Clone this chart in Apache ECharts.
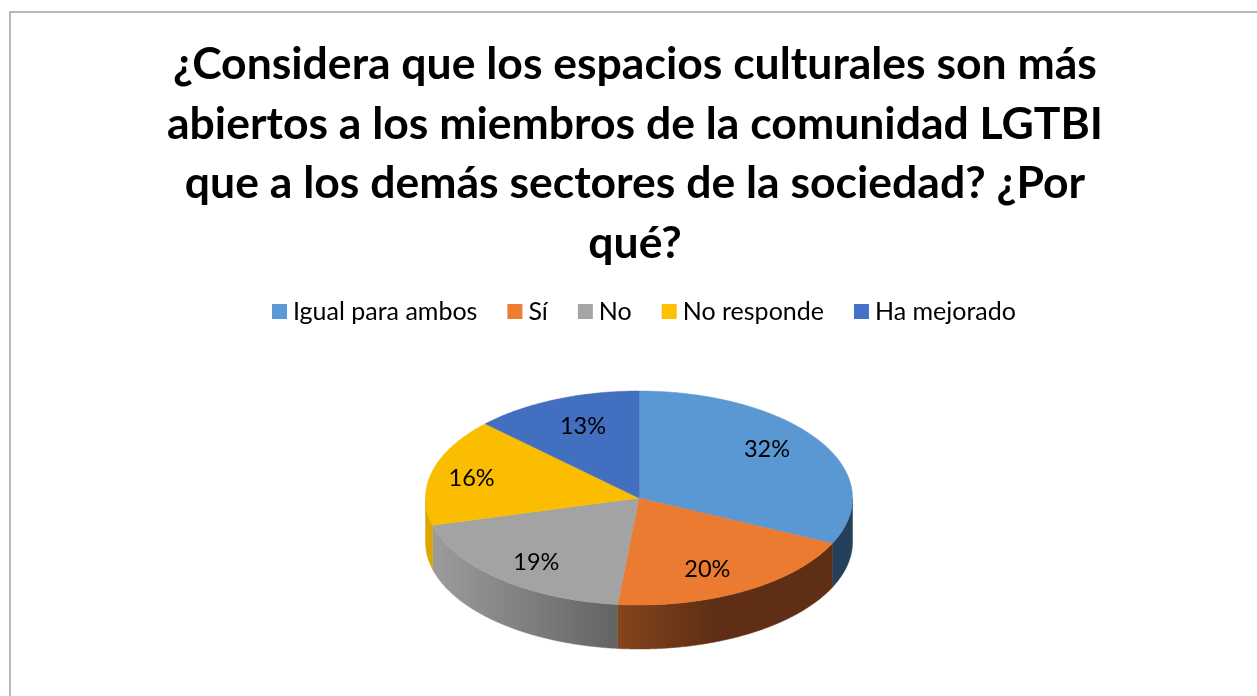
<!DOCTYPE html>
<html>
<head>
<meta charset="utf-8">
<style>html,body{margin:0;padding:0;background:#fff}#chart{width:1257px;height:696px}</style>
<script src="https://cdn.jsdelivr.net/npm/echarts@6/dist/echarts.min.js"></script>
</head>
<body>
<div id="chart"></div>
<script>
const titleText = '¿Considera que los espacios culturales son más\nabiertos a los miembros de la comunidad LGTBI\nque a los demás sectores de la sociedad? ¿Por\nqué?';
const categories = ['Igual para ambos', 'Sí', 'No', 'No responde', 'Ha mejorado'];
const values = [32.0, 19.6, 19.3, 16.3, 12.8];
const colors = ['#5B9BD5', '#ED7D31', '#A5A5A5', '#FFC000', '#4472C4'];
const topColors = ['#5A98D3', '#EA7B31', '#A3A3A3', '#FBBD00', '#426FBF'];

const PIE = { cx: 639, cy: 498, rx: 213.5, ry: 107, depth: 44 };
// how far along the ellipse radii each percentage label sits
const labelReachX = [0.71, 0.65, 0.74, 0.81, 0.67];
const labelReachY = [0.84, 0.77, 0.79, 0.74, 0.73];
// wall shading, left to right across each visible wall
const sideFills = [
  [['#25405A', 0], ['#25405A', 1]],
  [['#84441C', 0], ['#5E2F14', 0.45], ['#5E2F14', 1]],
  [['#9C9C9C', 0], ['#636363', 1]],
  [['#DDA600', 0], ['#DDA600', 1]],
  [['#25405A', 0], ['#25405A', 1]]
];

const total = values.reduce((a, b) => a + b, 0);
const FRONT_START = Math.PI / 2, FRONT_END = Math.PI * 3 / 2;
function rim(a, dy) {
  return [PIE.cx + PIE.rx * Math.sin(a), PIE.cy - PIE.ry * Math.cos(a) + (dy || 0)];
}
function arc(a0, a1, dy) {
  const n = Math.max(2, Math.ceil((a1 - a0) / (Math.PI / 360)));
  const pts = [];
  for (let i = 0; i <= n; i++) pts.push(rim(a0 + (a1 - a0) * i / n, dy));
  return pts;
}
function sliceRender(index) {
  return function (params, api) {
    let before = 0;
    for (let i = 0; i < index; i++) before += values[i];
    const a0 = before / total * Math.PI * 2;
    const a1 = (before + api.value(0)) / total * Math.PI * 2;
    const mid = (a0 + a1) / 2;
    const children = [];
    const s0 = Math.max(a0, FRONT_START), s1 = Math.min(a1, FRONT_END);
    if (s1 > s0) {
      const pts = arc(s0, s1, 0).concat(arc(s0, s1, PIE.depth).reverse());
      const grad = new echarts.graphic.LinearGradient(0, 0, 1, 0,
        sideFills[index].map(s => ({ color: s[0], offset: s[1] })));
      children.push({ type: 'polygon', shape: { points: pts }, style: { fill: grad, stroke: grad, lineWidth: 0.5 } });
    }
    children.push({
      type: 'polygon',
      shape: { points: [[PIE.cx, PIE.cy]].concat(arc(a0, a1, 0)) },
      style: { fill: topColors[index], stroke: topColors[index], lineWidth: 0.5 }
    });
    children.push({
      type: 'text',
      style: {
        text: Math.round(api.value(0) / total * 100) + '%',
        x: PIE.cx + PIE.rx * labelReachX[index] * Math.sin(mid),
        y: PIE.cy - PIE.ry * labelReachY[index] * Math.cos(mid),
        align: 'center', verticalAlign: 'middle',
        font: '23.5px Lato', fill: '#000'
      }
    });
    return { type: 'group', children: children };
  };
}

const chart = echarts.init(document.getElementById('chart'), null, { renderer: 'canvas' });
chart.setOption({
  animation: false,
  color: colors,
  title: {
    text: titleText, top: 30, textAlign: 'center',
    left: 630,
    textStyle: { fontFamily: 'Lato', fontWeight: 'bold', fontSize: 44.5, lineHeight: 59.5, color: '#000' }
  },
  legend: {
    data: categories, top: 294, left: 267, icon: 'rect',
    itemWidth: 15, itemHeight: 15, itemGap: 30,
    textStyle: { fontFamily: 'Lato', fontSize: 25, color: '#000', padding: [0, 0, 0, 1] }
  },
  graphic: [{
    type: 'rect', silent: true, z: -1,
    shape: { x: 10, y: 12, width: 1300, height: 800 },
    style: { fill: 'none', stroke: '#A0A0A0', lineWidth: 1.5 }
  }],
  series: categories.map((name, i) => ({
    type: 'custom', name: name, coordinateSystem: 'none',
    renderItem: sliceRender(i), data: [[values[i]]],
    encode: { value: 0 }, silent: true
  }))
});
</script>
</body>
</html>
